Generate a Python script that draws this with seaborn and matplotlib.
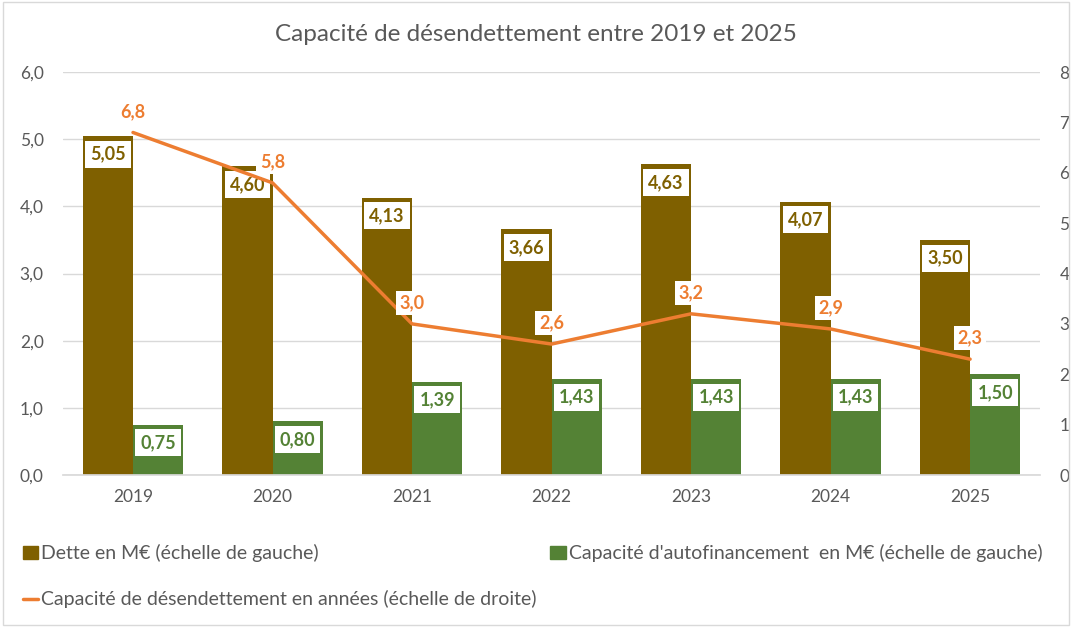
import numpy as np
import pandas as pd
import seaborn as sns
import matplotlib.pyplot as plt
from matplotlib.patches import Patch, Rectangle
from matplotlib.lines import Line2D

annees = ['2019', '2020', '2021', '2022', '2023', '2024', '2025']
dette = [5.05, 4.60, 4.13, 3.66, 4.63, 4.07, 3.50]
caf = [0.75, 0.80, 1.39, 1.43, 1.43, 1.43, 1.50]
desendettement = [6.8, 5.8, 3.0, 2.6, 3.2, 2.9, 2.3]

lbl_dette = "Dette en M€ (échelle de gauche)"
lbl_caf = "Capacité d'autofinancement  en M€ (échelle de gauche)"
lbl_ratio = "Capacité de désendettement en années (échelle de droite)"

c_dette = '#7F6000'
c_caf = '#548235'
c_ratio = '#ED7D31'
c_txt = '#595959'

df = pd.DataFrame({
    'annee': annees * 2,
    'valeur': dette + caf,
    'serie': [lbl_dette] * len(annees) + [lbl_caf] * len(annees),
})

sns.set_theme(style="white")
plt.rcParams['font.family'] = ['Lato', 'DejaVu Sans']

fig = plt.figure(figsize=(10.72, 6.27), dpi=100)
ax = fig.add_axes([0.059, 0.2424, 0.911, 0.6427])

sns.barplot(data=df, x='annee', y='valeur', hue='serie', ax=ax,
            palette=[c_dette, c_caf], width=0.72, gap=0, saturation=1,
            linewidth=0, legend=False)

ax.set_ylim(0, 6)
ax.set_yticks(np.arange(0, 6.1, 1))
ax.set_yticklabels([f"{v:.1f}".replace('.', ',') for v in np.arange(0, 6.1, 1)])
ax.set_xlim(-0.5, 6.5)
ax.set_xlabel("")
ax.set_ylabel("")
ax.grid(axis='y', color='#d9d9d9', linewidth=1)
ax.set_axisbelow(True)
for s in ['top', 'right', 'left']:
    ax.spines[s].set_visible(False)
ax.spines['bottom'].set_color('#d9d9d9')
ax.tick_params(axis='both', colors=c_txt, labelsize=12.5, length=0)
ax.tick_params(axis='x', pad=10)
ax.tick_params(axis='y', pad=14)

# bar labels inside the top of each bar, white boxes
for cont, col in zip(ax.containers, [c_dette, c_caf]):
    for rect in cont:
        h = rect.get_height()
        ax.annotate(f"{h:.2f}".replace('.', ','),
                    (rect.get_x() + rect.get_width() / 2, h),
                    xytext=(0, -7), textcoords='offset points',
                    ha='center', va='top', fontsize=13, fontweight='bold',
                    color=col,
                    bbox=dict(boxstyle='square,pad=0.28', fc='white', ec='none'))

ax2 = ax.twinx()
sns.lineplot(x=np.arange(len(annees)), y=desendettement, ax=ax2,
             color=c_ratio, linewidth=2.5)
ax2.set_ylim(0, 8)
ax2.set_yticks(range(0, 9))
ax2.set_xlim(-0.5, 6.5)
ax2.grid(False)
for s in ['top', 'right', 'left', 'bottom']:
    ax2.spines[s].set_visible(False)
ax2.tick_params(axis='y', colors=c_txt, labelsize=12.5, length=0, pad=14)

for i, v in enumerate(desendettement):
    ax2.annotate(f"{v:.1f}".replace('.', ','), (i, v),
                 xytext=(0, 9), textcoords='offset points',
                 ha='center', va='bottom', fontsize=13, fontweight='bold',
                 color=c_ratio,
                 bbox=dict(boxstyle='square,pad=0.2', fc='white', ec='none'))

fig.suptitle("Capacité de désendettement entre 2019 et 2025", y=0.962,
             fontsize=17.5, color=c_txt)

handles = [Patch(color=c_dette), Line2D([], [], color=c_ratio, linewidth=2.5),
           Patch(color=c_caf)]
labels = [lbl_dette, lbl_ratio, lbl_caf]
fig.legend(handles, labels, loc='upper left', bbox_to_anchor=(0.005, 0.16),
           ncol=2, frameon=False, fontsize=14, labelcolor=c_txt,
           handlelength=0.8, handleheight=0.7, handletextpad=0.15,
           labelspacing=1.45, columnspacing=0.7)

fig.patches.append(Rectangle((0.003, 0.003), 0.994, 0.994, transform=fig.transFigure,
                             fill=False, edgecolor='#d9d9d9', linewidth=1))

plt.savefig("out.png", dpi=100)
